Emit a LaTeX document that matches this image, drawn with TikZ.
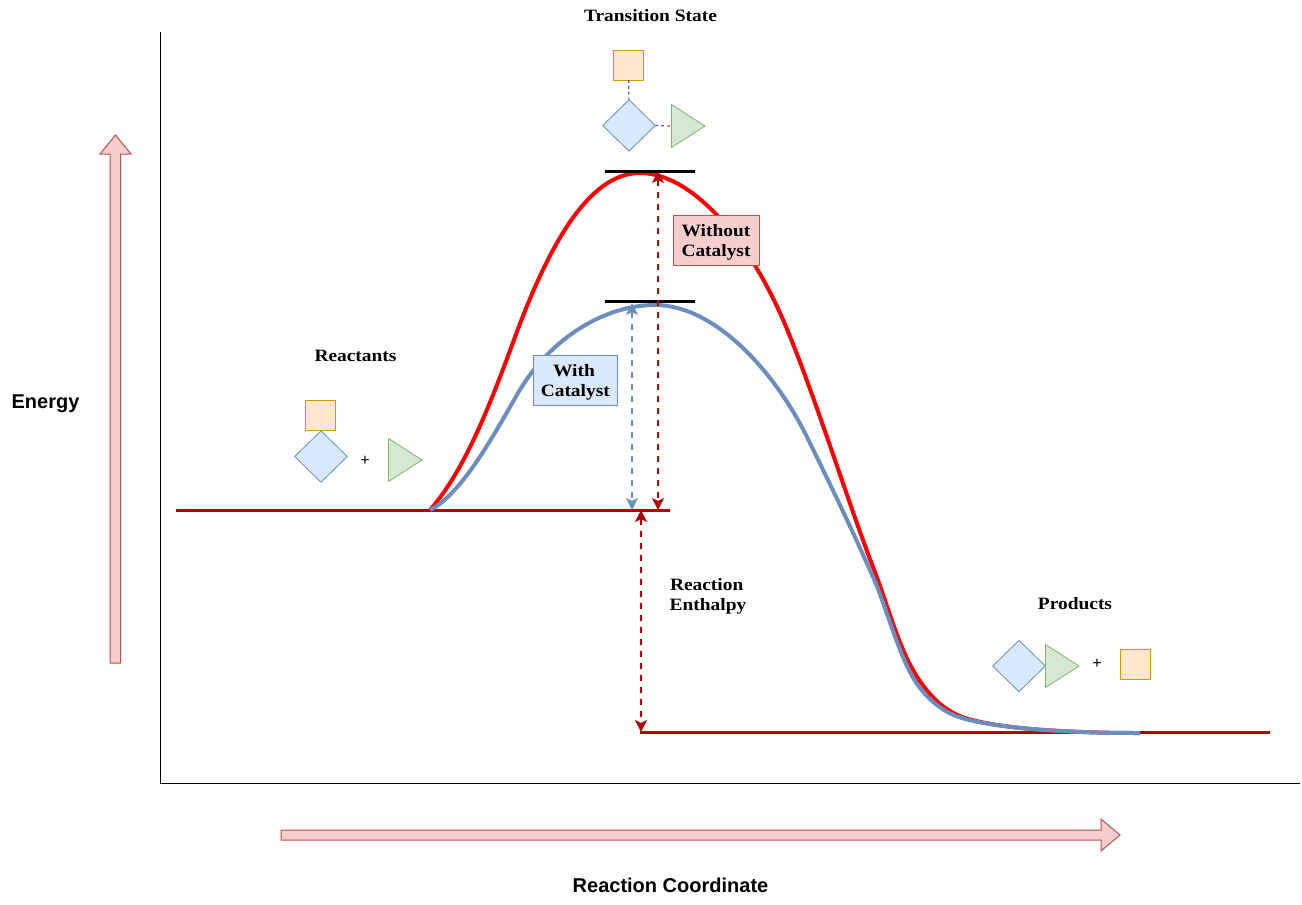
\documentclass[tikz,border=0pt]{standalone}
\usepackage{fontspec}
\setmainfont{Liberation Serif}
\setsansfont{Liberation Sans}
\newfontfamily\lblfont[FakeStretch=1.12,BoldFeatures={FakeStretch=1.12}]{Liberation Serif}
\usetikzlibrary{arrows.meta,shapes.geometric}
\definecolor{rd}{HTML}{B20000}
\definecolor{bl}{HTML}{6C8EBF}
\definecolor{blf}{HTML}{DAE8FC}
\definecolor{gr}{HTML}{82B366}
\definecolor{grf}{HTML}{D5E8D4}
\definecolor{og}{HTML}{D79B00}
\definecolor{ogf}{HTML}{FFE6CC}
\definecolor{pk}{HTML}{B85450}
\definecolor{pkf}{HTML}{F8CECC}
\tikzset{
 x=0.75pt,y=-0.75pt,
 sq/.style={draw=og,fill=ogf,line width=0.75pt,minimum size=22.5pt,inner sep=0,outer sep=0},
 dia/.style={diamond,draw=bl,fill=blf,line width=0.6pt,minimum width=39.5pt,minimum height=38.5pt,inner sep=0,outer sep=0,aspect=1},
 tri/.style={draw=gr,fill=grf,line width=0.6pt},
 ttl/.style={font=\fontsize{13}{15}\lblfont\bfseries\selectfont,align=center,inner sep=0},
 axis/.style={font=\fontsize{15}{18}\sffamily\bfseries\selectfont,inner sep=0},
 plus/.style={font=\fontsize{12}{13}\sffamily\selectfont,inner sep=0},
 lvl/.style={rd,line width=2.25pt},
 bar/.style={black,line width=2.25pt},
 dim/.style={line width=1.4pt,dash pattern=on 4.5pt off 4.5pt,{Stealth[length=9pt,width=9pt,inset=2.2pt]}-{Stealth[length=9pt,width=9pt,inset=2.2pt]}},
 link/.style={draw=black!62,line width=0.9pt,dash pattern=on 2.2pt off 2.2pt},
 lbl/.style={draw,line width=0.6pt,minimum height=37.5pt,inner sep=0,align=center,font=\fontsize{13}{15}\lblfont\bfseries\selectfont},
 blockarrow/.style={draw=pk,fill=pkf,line width=0.75pt},
}
\newcommand{\triangleshape}[3]{\draw[tri] (#1,#2-21.5) -- (#1+33.5,#2) -- (#1,#2+21.5) -- cycle; \coordinate (#3) at (#1,#2);}
\begin{document}
\begin{tikzpicture}
\useasboundingbox (0,0) rectangle (1302,904);
\fill[white] (0,0) rectangle (1302,904);
% axes
\coordinate (o) at (160,783);
\coordinate (ay) at (160,32);
\coordinate (ax) at (1300,783);
\draw[black,line width=0.75pt] (ay) -- (o) -- (ax);
% block arrows
\draw[blockarrow] (110,663) -- (110,154) -- (100,154) -- (115.5,135) -- (131,154) -- (120.5,154) -- (120.5,663) -- cycle;
\draw[blockarrow] (281,830) -- (1101,830) -- (1101,819) -- (1120,835) -- (1101,851) -- (1101,840) -- (281,840) -- cycle;
% levels
\coordinate (rL) at (176,510);
\coordinate (rR) at (670,510);
\coordinate (pL) at (640,732.5);
\coordinate (pR) at (1270,732.5);
\draw[lvl] (rL) -- (rR);
\draw[lvl] (pL) -- (pR);
% curves
\draw[red,line width=3pt] (430,510) .. controls (465,470) and (490,405) .. (515,337)
  .. controls (555,228) and (595,173) .. (640,173)
  .. controls (690,173) and (745,235) .. (780,313)
  .. controls (810,380) and (846,497) .. (873,567)
  .. controls (889,608) and (900,655) .. (922,684)
  .. controls (935,702) and (948,712) .. (965,718)
  .. controls (1000,729) and (1070,733) .. (1140,733);
\draw[bl,line width=3pt] (430,510) .. controls (462,494) and (495,433) .. (518,393)
  .. controls (550,338) and (605,305) .. (655,305)
  .. controls (715,305) and (775,372) .. (807,437)
  .. controls (829,482) and (851,527) .. (873,577)
  .. controls (888,611) and (898,655) .. (917,684)
  .. controls (930,702) and (945,713) .. (962,718)
  .. controls (1000,729) and (1070,733) .. (1140,733);
% bars
\coordinate (b1L) at (605,171); \coordinate (b1R) at (695,171);
\coordinate (b2L) at (605,301); \coordinate (b2R) at (695,301);
\draw[bar] (b1L) -- (b1R);
\draw[bar] (b2L) -- (b2R);
% dimension arrows
\coordinate (d1a) at (658,171); \coordinate (d1b) at (658,510);
\coordinate (d2a) at (632,303); \coordinate (d2b) at (632,510);
\coordinate (d3a) at (641,510); \coordinate (d3b) at (641,732);
\draw[dim,rd] (d1a) -- (d1b);
\draw[dim,bl] (d2a) -- (d2b);
\draw[dim,rd] (d3a) -- (d3b);
% labels on curves
\node[lbl,fill=pkf,draw=pk,minimum width=64.5pt] (wo) at (716,240.5) {\rule{0pt}{12pt}Without\\Catalyst};
\node[lbl,fill=blf,draw=bl,minimum width=63pt] (wi) at (575.3,380.5) {\rule{0pt}{12pt}With\kern2pt\\Catalyst};
% titles
\node[ttl] (ts) at (650.5,16) {Transition State};
\node[ttl] (re) at (355.5,356) {Reactants};
\node[ttl] (pr) at (1075,604) {Products};
\node[ttl] (en) at (708,596) {Reaction\kern2pt\\ Enthalpy};
\node[axis] (ey) at (45.5,404) {Energy};
\node[axis] (rc) at (670.5,885) {Reaction Coordinate};
% transition state species
\node[sq] (s1) at (628.7,65) {};
\node[dia] (d1) at (629,125.5) {};
\triangleshape{671.5}{126}{t1}
\draw[link] (s1) -- (d1);
\draw[link] (d1.east) -- (t1);
% reactants
\node[sq] (s2) at (320.7,415.5) {};
\node[dia] (d2) at (321,456.5) {};
\node[plus] (p2) at (365,461) {+};
\triangleshape{388.5}{460}{t2}
% products
\node[dia] (d3) at (1019,666) {};
\triangleshape{1045.5}{666}{t3}
\node[plus] (p3) at (1097,664) {+};
\node[sq] (s3) at (1135.3,664) {};
\end{tikzpicture}
\end{document}
